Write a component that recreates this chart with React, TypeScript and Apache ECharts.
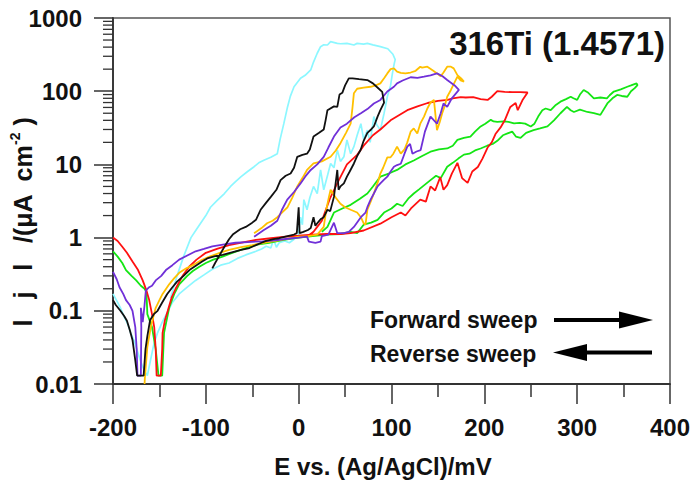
import React, { useEffect, useRef } from 'react';
import * as echarts from 'echarts';

// Axis ticks
const xTicks = [-200, -100, 0, 100, 200, 300, 400];
const yTickLabels = ['0.01', '0.1', '1', '10', '100', '1000'];
const yMinorTicks = [
  0.02, 0.03, 0.04, 0.05, 0.06, 0.07, 0.08, 0.09,
  0.2, 0.3, 0.4, 0.5, 0.6, 0.7, 0.8, 0.9,
  2, 3, 4, 5, 6, 7, 8, 9,
  20, 30, 40, 50, 60, 70, 80, 90,
  200, 300, 400, 500, 600, 700, 800, 900,
];

// [E (mV), |j| (µA cm-2)] — forward sweep followed by reverse sweep
const redCurve: [number, number][] = [
  [-200, 1.0], [-195, 0.9], [-190, 0.75], [-185, 0.62], [-179, 0.47], [-173, 0.36], [-168, 0.26], [-164, 0.19],
  [-161, 0.14], [-158, 0.09], [-155.6, 0.06], [-154, 0.03], [-153, 0.013], [-148.5, 0.013], [-147, 0.03],
  [-146.6, 0.05], [-144, 0.075], [-141, 0.1], [-137, 0.15], [-132.6, 0.2], [-125, 0.3], [-118, 0.4],
  [-110, 0.5], [-100, 0.62], [-88, 0.7], [-75, 0.79], [-60, 0.86], [-46, 0.93], [-30, 0.98], [-14, 1.03],
  [0, 1.06], [15, 1.1], [30, 1.12], [45, 1.12], [56, 1.15], [70, 1.25], [88, 1.55], [100, 1.9], [110, 2.2],
  [115, 2.0], [121, 2.5], [131, 3.3], [137, 3.1], [142, 5.0], [147, 4.4], [152.5, 6.7], [156, 4.5], [160, 5.2],
  [165, 7.5], [171, 10.5], [176, 6.5], [182, 5.6], [187, 8.0], [193, 9.2], [198, 12], [203.5, 17], [208, 20],
  [212, 26], [217.5, 32], [222, 40], [228, 61], [233.7, 69], [236, 55], [241, 75], [246.6, 96],
  [239, 97], [230, 97], [222, 98], [214, 100], [208, 84], [203.5, 76], [196, 78], [188, 83], [180, 82],
  [174.5, 83], [166, 80], [160.5, 76], [150, 74], [139, 69], [128, 62], [117, 55], [108, 47], [99, 40],
  [88, 30], [80, 25], [70, 18], [63, 13.5], [52, 10], [43, 6], [34, 3.5], [25, 1.7], [20, 1.4], [16, 1.2], [10, 1.05],
];

const greenCurve: [number, number][] = [
  [-200, 0.65], [-195, 0.55], [-190, 0.45], [-186, 0.36], [-180, 0.3], [-175, 0.26], [-170, 0.22], [-166, 0.2],
  [-164, 0.18], [-163, 0.09], [-158, 0.06], [-154, 0.03], [-151, 0.013], [-147, 0.013], [-145, 0.05],
  [-139.5, 0.11], [-134, 0.17], [-128.7, 0.23], [-120, 0.3], [-114, 0.35], [-107, 0.4], [-100, 0.45],
  [-92, 0.5], [-82, 0.55], [-70, 0.63], [-57, 0.72], [-45, 0.8], [-32, 0.85], [-16, 0.93], [0, 1.0], [15, 1.05],
  [30, 1.1], [45, 1.12], [56, 1.2], [63, 1.15], [70, 1.5], [78, 1.6], [85, 1.75], [92, 2.2], [100, 2.5],
  [106, 2.9], [112, 2.7], [118, 3.4], [124, 4.0], [130, 4.6], [136, 5.3], [142, 6.1], [148, 7.0], [153, 6.5],
  [160, 9.3], [166, 10.5], [172, 12], [178, 13.6], [184, 14], [190, 15.5], [196, 16.5], [203, 18], [209, 19],
  [214, 21], [220, 25], [225, 26.5], [230, 28], [234, 24], [239, 23], [245, 27], [253, 29.4], [260, 31],
  [268, 33], [275, 40], [282, 50], [289, 61], [293, 55], [296.5, 52], [303, 56], [311, 52], [318, 50],
  [325, 47.5], [332.5, 68], [338, 80], [343, 89], [348, 86], [354, 84], [358, 100], [362, 110], [365, 121],
  [364, 128], [358, 120], [354, 115], [347, 106], [339.5, 99], [335, 88], [332, 80], [325, 82], [318, 80],
  [312, 95], [307, 104], [303, 90], [300, 76], [296, 80], [293, 84], [288, 78], [282, 72], [277, 65],
  [271.5, 55], [266, 58], [262.5, 55], [258, 45], [254, 36], [250, 33], [244, 36], [238, 37], [232, 36.4],
  [226, 38], [221, 38.6], [214, 38], [210, 38.6], [207, 40.6], [201, 36], [196, 33], [190, 28], [185, 24],
  [178, 23], [171, 21.6], [166, 18], [160, 16.5], [151, 16], [142, 14.9], [133, 13], [124, 11.3], [115, 10],
  [106, 8.4], [97, 7.5], [88, 6.8], [80, 5], [74, 4.0], [66, 3.4], [56, 2.8], [47, 2.5], [38, 2.2], [31, 1.4], [25, 1.2],
];

const purpleCurve: [number, number][] = [
  [-200, 0.34], [-196, 0.27], [-193, 0.21], [-189, 0.17], [-186, 0.14], [-182, 0.12], [-179, 0.1], [-176, 0.06],
  [-174.5, 0.03], [-173.6, 0.013], [-170, 0.013], [-169.5, 0.06], [-170, 0.11], [-168, 0.07], [-166, 0.12],
  [-164.6, 0.19], [-161, 0.21], [-158, 0.22], [-154, 0.26], [-148, 0.3], [-143, 0.36], [-136, 0.42],
  [-128.7, 0.5], [-120, 0.57], [-111, 0.65], [-102, 0.7], [-93, 0.76], [-80, 0.81], [-68, 0.85], [-55, 0.87],
  [-39, 0.89], [-25, 0.92], [-7, 0.98], [0, 1.0], [9, 1.03], [11, 0.88], [18, 0.85], [23.6, 0.88], [25, 1.05],
  [32, 1.1], [38, 1.6], [41.6, 1.15], [48.7, 1.15], [54, 1.2], [59.5, 1.4], [67, 1.9], [72, 2.2], [74, 2.6],
  [77.5, 3.3], [81, 4.0], [85, 5.0], [88, 5.5], [92, 6.2], [95.5, 6.8], [99, 8.0], [102.6, 9.3], [106, 9.8],
  [110, 10.2], [114, 14], [117, 17.5], [120, 19], [122.6, 14], [127, 15], [131.4, 15.7], [136, 28], [142, 45],
  [149, 36], [153, 50], [156, 68], [160, 61], [165, 80], [172.6, 104],
  [168, 120], [160, 142], [155, 160], [149, 175], [142, 165], [135, 158], [128, 152], [120.6, 155], [112, 140],
  [106, 128], [102.6, 115], [95.5, 99], [88, 76], [81, 68], [74, 57], [67, 50], [60, 44], [52, 36], [45, 32],
  [38, 24], [32, 17], [27, 12.7], [20, 10], [13, 8.4], [7, 6.8], [2, 5.5], [-5, 4.2], [-12.3, 3.3], [-18, 2.4],
  [-23, 1.7], [-30, 1.45], [-37.5, 1.27], [-48, 1.03],
];

const blackCurve: [number, number][] = [
  [-200, 0.14], [-197, 0.12], [-192, 0.1], [-188, 0.085], [-185, 0.073], [-182, 0.055], [-179, 0.04],
  [-176, 0.021], [-174, 0.013], [-167, 0.013], [-165, 0.03], [-163, 0.045], [-160, 0.075], [-156, 0.09],
  [-152, 0.1], [-147, 0.13], [-141.6, 0.17], [-136, 0.21], [-131, 0.25], [-124, 0.3], [-116.5, 0.37],
  [-110, 0.42], [-104, 0.47], [-98.5, 0.52], [-90, 0.56], [-82, 0.58], [-72, 0.63], [-62, 0.68], [-53, 0.72],
  [-46, 0.79], [-40, 0.85], [-35, 0.9], [-27, 0.95], [-21, 0.98], [-12, 1.05], [-5, 1.1], [-2, 1.15], [0, 2.6],
  [1, 1.15], [5, 1.2], [10, 1.27], [13, 1.35], [16, 1.9], [18, 1.45], [20, 1.57], [24, 1.8], [27, 1.9], [31, 2.4],
  [34, 2.3], [38, 3.6], [41.6, 8.4], [43, 4.5], [45, 5], [48.7, 5.5], [52, 6.8], [55, 8], [59.5, 10.3], [63, 13],
  [66.7, 15.7], [70, 21], [74, 27], [78, 30], [81, 33], [85, 45], [88, 55], [92, 70],
  [90, 98], [84, 115], [80, 128], [74, 142], [65, 146], [58, 150], [54, 150], [50, 120], [47, 95], [44, 90],
  [41.6, 61], [38, 62], [31, 55], [29, 40], [27, 30], [22, 27], [16, 24], [12, 16], [9, 14], [4, 13.5],
  [-1.5, 12.7], [-5, 9], [-8.7, 7.5], [-14, 7], [-19.5, 6.1], [-24, 4.5], [-30, 3.6], [-35, 3.0], [-41, 2.4],
  [-46, 1.75], [-50, 1.6], [-57, 1.4], [-63, 1.3], [-71, 1.1], [-75, 0.95], [-80, 0.75], [-86, 0.55], [-90, 0.45], [-93, 0.38],
];

const cyanCurve: [number, number][] = [
  [-200, 0.17], [-195, 0.13], [-192, 0.11], [-188, 0.083], [-184, 0.065], [-181, 0.05], [-177, 0.038],
  [-174, 0.029], [-170, 0.02], [-166, 0.015], [-163, 0.013], [-160, 0.02], [-156, 0.035], [-152, 0.05],
  [-147, 0.07], [-141.6, 0.094], [-136, 0.13], [-128.7, 0.17], [-120, 0.21], [-111, 0.26], [-102, 0.31],
  [-93, 0.37], [-84, 0.42], [-75, 0.45], [-66, 0.52], [-57, 0.58], [-46, 0.65], [-40, 0.7], [-35, 0.76],
  [-30, 0.72], [-27, 0.95], [-24, 0.74], [-21, 0.85], [-15, 0.9], [-10, 0.85], [-5, 0.95], [0, 1.1], [2, 1.9],
  [4, 1.5], [5.6, 3.3], [9, 2.4], [12, 3.5], [16, 5], [20, 4], [23.6, 8.4], [27, 4.5], [31, 7], [34.4, 10.3],
  [38, 9], [41.6, 15.7], [45, 11], [48.7, 12.7], [52, 21.6], [56, 14], [59.5, 17.5], [63, 25], [67, 36],
  [70, 22], [74, 29.4], [77, 20], [81, 45], [84, 35], [88, 29.4], [92, 50], [95.5, 84], [99, 120], [101, 175],
  [103, 240], [104, 270],
  [101.5, 320], [96, 380], [88, 406], [80, 430], [74, 450], [70, 440], [63, 450], [59.5, 428], [52, 450],
  [45, 445], [41.6, 450], [34.4, 475], [31, 428], [27, 430], [23.6, 406], [20, 330], [16, 250], [13, 195],
  [7, 165], [2, 150], [-5, 115], [-9, 85], [-12, 61], [-16, 36], [-20, 22], [-23, 14], [-30, 12.5],
  [-37.5, 11.4], [-43, 10.5], [-48, 9.3], [-55, 8], [-62, 6.8], [-68, 5.8], [-73.4, 5], [-80, 4], [-88, 3.2],
  [-95, 2.6], [-100, 2.0], [-110, 1.3], [-116, 1.0], [-124, 0.55], [-131, 0.3], [-138, 0.15],
];

const orangeCurve: [number, number][] = [
  [-166, 0.01], [-165.7, 0.012], [-163, 0.032], [-161, 0.045], [-159, 0.063], [-154, 0.11], [-150, 0.14],
  [-146.6, 0.17], [-139.5, 0.23], [-134, 0.28], [-128.7, 0.33], [-121, 0.38], [-114, 0.42], [-105, 0.49],
  [-96, 0.55], [-85, 0.62], [-75, 0.68], [-62, 0.74], [-50, 0.79], [-38, 0.85], [-28, 0.89], [-14, 0.95],
  [0, 1.03], [10, 1.05], [20, 1.1], [27, 1.4], [30, 2.5], [32.6, 3.6], [34.4, 4.5], [40, 3.5], [45, 2.9],
  [50, 2.6], [56, 2.4], [63, 2.2], [67, 1.9], [70, 1.57], [72, 1.5], [74, 2.4], [78, 3.2], [81, 4.0], [86, 6.1],
  [88, 7.5], [91, 9], [95.5, 12.5], [99, 12.5], [102, 14], [106, 17.5], [110, 14], [114, 16], [117, 20],
  [120.6, 28], [124, 31], [127.8, 26.5], [131, 36], [135, 45], [138.6, 58], [142, 70], [145.7, 76], [149, 29.4],
  [152, 38], [154.6, 50], [157, 61], [160, 84], [164, 104], [167.4, 128], [171, 158], [174.5, 140], [178, 135],
  [175, 150], [171, 166], [167, 205], [164, 216], [160, 216], [156, 180], [153, 160], [149, 175], [145, 190],
  [138.6, 216], [133, 210], [131, 216], [126, 190], [120.6, 180], [115, 175], [110, 178], [106, 185],
  [102.6, 205], [99, 200], [95.5, 175], [92, 150], [88, 128], [83, 120], [77.5, 115], [70, 112], [63, 108],
  [59.5, 94], [58, 60], [56, 36], [51, 27], [45, 19.5], [40, 15.5], [34.4, 12.7], [25, 11], [16, 10.3], [9, 8.4],
  [4, 6.5], [-1.5, 5], [-7, 3.5], [-12, 2.6], [-18, 2.2], [-23, 1.9], [-28, 1.7], [-34, 1.57], [-40, 1.35], [-48, 1.15],
];

const FONT = '"Liberation Sans", Arial, sans-serif';
const INK = '#111111';
const AXIS = '#333333';

export default function App() {
  const ref = useRef<HTMLDivElement>(null);

  useEffect(() => {
    if (!ref.current) return;
    const chart = echarts.init(ref.current, null, { renderer: 'svg' });

    const mk = (name: string, data: [number, number][], color: string, width = 1.8) => ({
      name,
      type: 'line',
      data,
      showSymbol: false,
      symbol: 'none',
      clip: true,
      lineStyle: { color, width },
      itemStyle: { color },
      z: 3,
    });

    chart.setOption({
      animation: false,
      backgroundColor: '#ffffff',
      grid: {
        left: 113,
        right: 26,
        top: 18,
        bottom: 103,
        show: true,
        borderColor: '#555555',
        borderWidth: 1.5,
        containLabel: false,
      },
      xAxis: {
        type: 'value',
        min: xTicks[0],
        max: xTicks[xTicks.length - 1],
        interval: 100,
        axisLine: { show: true, onZero: false, lineStyle: { color: AXIS, width: 1.8 } },
        axisTick: { show: true, length: 20, lineStyle: { color: AXIS, width: 1.5 } },
        minorTick: { show: true, splitNumber: 2, length: 13, lineStyle: { color: AXIS, width: 1.5 } },
        splitLine: { show: false },
        axisLabel: {
          margin: 31,
          fontSize: 24,
          fontWeight: 'bold',
          fontFamily: FONT,
          color: INK,
          formatter: (v: number) => String(v),
        },
      },
      yAxis: {
        type: 'log',
        logBase: 10,
        min: 0.01,
        max: 1000,
        splitNumber: 5,
        axisLine: { show: true, onZero: false, lineStyle: { color: AXIS, width: 1.8 } },
        axisTick: { show: true, length: 19, lineStyle: { color: AXIS, width: 1.5 } },
        splitLine: { show: false },
        axisLabel: {
          margin: 31,
          fontSize: 24,
          fontWeight: 'bold',
          fontFamily: FONT,
          color: INK,
          formatter: (v: number) => {
            const i = Math.round(Math.log10(v)) + 2;
            return yTickLabels[i] ?? '';
          },
        },
      },
      series: [
        mk('cyan', cyanCurve, '#8CF7FF', 1.7),
        mk('green', greenCurve, '#14E614'),
        mk('red', redCurve, '#FF1010'),
        mk('orange', orangeCurve, '#FFC000'),
        mk('purple', purpleCurve, '#7030D8'),
        mk('black', blackCurve, '#111111'),
        {
          type: 'custom',
          silent: true,
          clip: false,
          z: 5,
          data: yMinorTicks.map((v) => [xTicks[0], v]),
          encode: { x: 0, y: 1 },
          renderItem: (params: any, api: any) => {
            const p = api.coord([api.value(0), api.value(1)]);
            return {
              type: 'line',
              shape: { x1: p[0] - 10, y1: p[1], x2: p[0], y2: p[1] },
              style: { stroke: AXIS, lineWidth: 1.3 },
            };
          },
        },
      ],
      graphic: [
        {
          type: 'text',
          x: 665,
          y: 43,
          style: {
            text: '316Ti (1.4571)',
            font: `bold 33px ${FONT}`,
            fill: INK,
            align: 'right',
            verticalAlign: 'middle',
          },
        },
        {
          type: 'text',
          x: 383,
          y: 466,
          style: {
            text: 'E vs. (Ag/AgCl)/mV',
            font: `bold 24px ${FONT}`,
            fill: INK,
            align: 'center',
            verticalAlign: 'middle',
          },
        },
        {
          type: 'text',
          x: 23,
          y: 222,
          rotation: Math.PI / 2,
          style: {
            text: '{a|l   j   l   /(μA  cm}{s|-2}{a| )}',
            align: 'center',
            verticalAlign: 'middle',
            fill: INK,
            rich: {
              a: { fontSize: 25, fontWeight: 'bold', fontFamily: FONT, color: INK, lineHeight: 30 },
              s: { fontSize: 14, fontWeight: 'bold', fontFamily: FONT, color: INK, lineHeight: 30, verticalAlign: 'top' },
            },
          },
        },
        {
          type: 'text',
          x: 370,
          y: 320,
          style: { text: 'Forward sweep', font: `bold 23px ${FONT}`, fill: INK, align: 'left', verticalAlign: 'middle' },
        },
        {
          type: 'text',
          x: 370,
          y: 354,
          style: { text: 'Reverse sweep', font: `bold 23px ${FONT}`, fill: INK, align: 'left', verticalAlign: 'middle' },
        },
        {
          type: 'line',
          shape: { x1: 554, y1: 320, x2: 624, y2: 320 },
          style: { stroke: '#000', lineWidth: 4 },
        },
        {
          type: 'polygon',
          shape: { points: [[619, 311.5], [653, 320], [619, 328.5]] },
          style: { fill: '#000' },
        },
        {
          type: 'line',
          shape: { x1: 583, y1: 352.5, x2: 652, y2: 352.5 },
          style: { stroke: '#000', lineWidth: 4 },
        },
        {
          type: 'polygon',
          shape: { points: [[587, 344], [553, 352.5], [587, 361]] },
          style: { fill: '#000' },
        },
      ],
    });

    return () => chart.dispose();
  }, []);

  return (
    <div
      ref={ref}
      style={{ position: 'fixed', left: 0, top: 0, width: 696, height: 487, background: '#fff' }}
    />
  );
}
